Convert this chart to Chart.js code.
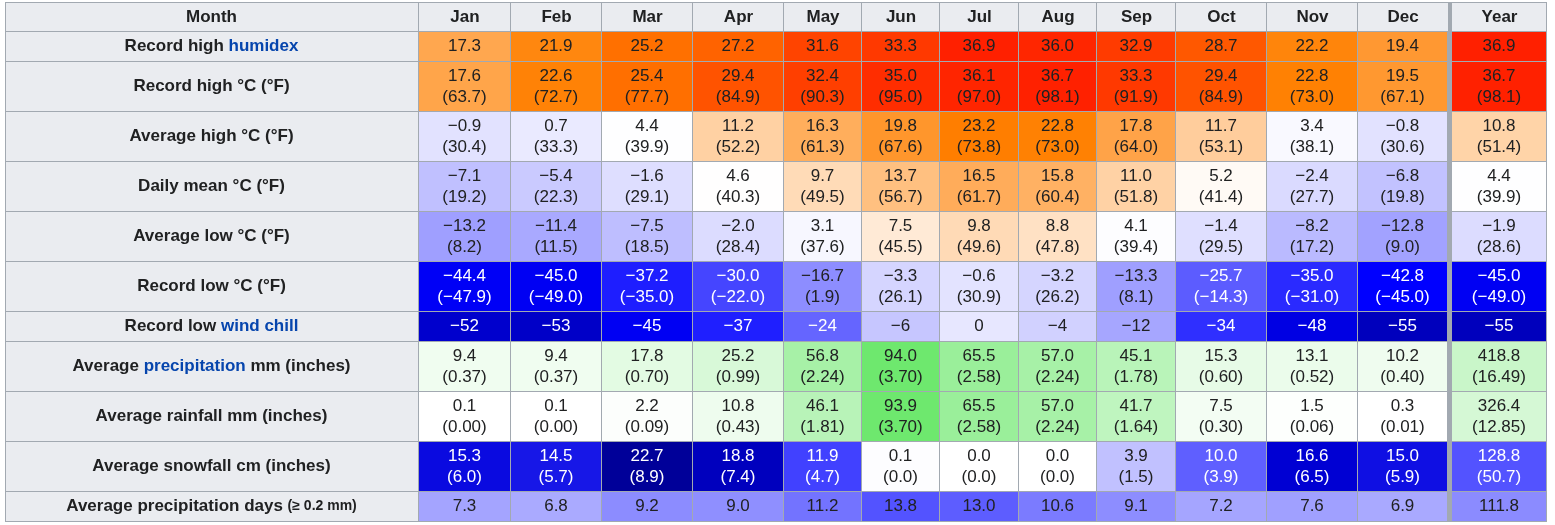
<!DOCTYPE html>
<html>
<head>
<meta charset="utf-8">
<script src="https://cdn.jsdelivr.net/npm/chart.js@4.4.1/dist/chart.umd.min.js"></script>
<style>
  html, body { margin: 0; padding: 0; background: #fff; }
</style>
</head>
<body>
<canvas id="climate" width="1555" height="525"></canvas>
<script>
// climate table values
const months = ['Jan', 'Feb', 'Mar', 'Apr', 'May', 'Jun', 'Jul', 'Aug', 'Sep', 'Oct', 'Nov', 'Dec', 'Year'];

const humidex      = [17.3, 21.9, 25.2, 27.2, 31.6, 33.3, 36.9, 36.0, 32.9, 28.7, 22.2, 19.4, 36.9];
const recordHighC  = [17.6, 22.6, 25.4, 29.4, 32.4, 35.0, 36.1, 36.7, 33.3, 29.4, 22.8, 19.5, 36.7];
const recordHighF  = [63.7, 72.7, 77.7, 84.9, 90.3, 95.0, 97.0, 98.1, 91.9, 84.9, 73.0, 67.1, 98.1];
const avgHighC     = [-0.9, 0.7, 4.4, 11.2, 16.3, 19.8, 23.2, 22.8, 17.8, 11.7, 3.4, -0.8, 10.8];
const avgHighF     = [30.4, 33.3, 39.9, 52.2, 61.3, 67.6, 73.8, 73.0, 64.0, 53.1, 38.1, 30.6, 51.4];
const meanC        = [-7.1, -5.4, -1.6, 4.6, 9.7, 13.7, 16.5, 15.8, 11.0, 5.2, -2.4, -6.8, 4.4];
const meanF        = [19.2, 22.3, 29.1, 40.3, 49.5, 56.7, 61.7, 60.4, 51.8, 41.4, 27.7, 19.8, 39.9];
const avgLowC      = [-13.2, -11.4, -7.5, -2.0, 3.1, 7.5, 9.8, 8.8, 4.1, -1.4, -8.2, -12.8, -1.9];
const avgLowF      = [8.2, 11.5, 18.5, 28.4, 37.6, 45.5, 49.6, 47.8, 39.4, 29.5, 17.2, 9.0, 28.6];
const recordLowC   = [-44.4, -45.0, -37.2, -30.0, -16.7, -3.3, -0.6, -3.2, -13.3, -25.7, -35.0, -42.8, -45.0];
const recordLowF   = [-47.9, -49.0, -35.0, -22.0, 1.9, 26.1, 30.9, 26.2, 8.1, -14.3, -31.0, -45.0, -49.0];
const windChill    = [-52, -53, -45, -37, -24, -6, 0, -4, -12, -34, -48, -55, -55];
const precipMm     = [9.4, 9.4, 17.8, 25.2, 56.8, 94.0, 65.5, 57.0, 45.1, 15.3, 13.1, 10.2, 418.8];
const precipIn     = [0.37, 0.37, 0.70, 0.99, 2.24, 3.70, 2.58, 2.24, 1.78, 0.60, 0.52, 0.40, 16.49];
const rainMm       = [0.1, 0.1, 2.2, 10.8, 46.1, 93.9, 65.5, 57.0, 41.7, 7.5, 1.5, 0.3, 326.4];
const rainIn       = [0.00, 0.00, 0.09, 0.43, 1.81, 3.70, 2.58, 2.24, 1.64, 0.30, 0.06, 0.01, 12.85];
const snowCm       = [15.3, 14.5, 22.7, 18.8, 11.9, 0.1, 0.0, 0.0, 3.9, 10.0, 16.6, 15.0, 128.8];
const snowIn       = [6.0, 5.7, 8.9, 7.4, 4.7, 0.0, 0.0, 0.0, 1.5, 3.9, 6.5, 5.9, 50.7];
const precipDays   = [7.3, 6.8, 9.2, 9.0, 11.2, 13.8, 13.0, 10.6, 9.1, 7.2, 7.6, 6.9, 111.8];

// [text] = link, {text} = small print
const rows = [
  { label: 'Record high [humidex]', main: humidex, dp: 1, kind: 'temp' },
  { label: 'Record high °C (°F)', main: recordHighC, sub: recordHighF, dp: 1, subDp: 1, kind: 'temp' },
  { label: 'Average high °C (°F)', main: avgHighC, sub: avgHighF, dp: 1, subDp: 1, kind: 'temp' },
  { label: 'Daily mean °C (°F)', main: meanC, sub: meanF, dp: 1, subDp: 1, kind: 'temp' },
  { label: 'Average low °C (°F)', main: avgLowC, sub: avgLowF, dp: 1, subDp: 1, kind: 'temp' },
  { label: 'Record low °C (°F)', main: recordLowC, sub: recordLowF, dp: 1, subDp: 1, kind: 'temp' },
  { label: 'Record low [wind chill]', main: windChill, dp: 0, kind: 'temp' },
  { label: 'Average [precipitation] mm (inches)', main: precipMm, sub: precipIn, dp: 1, subDp: 2, kind: 'precip' },
  { label: 'Average rainfall mm (inches)', main: rainMm, sub: rainIn, dp: 1, subDp: 2, kind: 'precip' },
  { label: 'Average snowfall cm (inches)', main: snowCm, sub: snowIn, dp: 1, subDp: 1, kind: 'snow' },
  { label: 'Average precipitation days {(≥ 0.2 mm)}', main: precipDays, dp: 1, kind: 'days' }
];

// table geometry in scale units
const colWidths = [92, 91, 91, 91, 78, 78, 79, 78, 79, 91, 91, 90, 95];
const yearGap = 4;
const colLeft = [], colRight = [];
let cx = 0;
colWidths.forEach((w, i) => {
  if (i === 12) cx += yearGap;
  colLeft.push(cx); cx += w; colRight.push(cx);
});
const tableWidth = cx;

const rowTop = [], rowBottom = [];
let cy = 0;
rows.forEach(r => { rowTop.push(cy); cy += r.sub ? 50 : 30; rowBottom.push(cy); });
const tableHeight = cy;

const FONT = "'Liberation Sans', Arial, sans-serif";
const TEXT = '#202122';
const LINK = '#0645ad';
const GRID = '#a2a9b1';
const HEAD = '#eaecf0';

function rangePos(v, start, stop) {
  const t = (v - start) / (stop - start) * 255;
  return Math.round(Math.max(0, Math.min(255, t)));
}
const clamp = v => Math.round(Math.max(0, Math.min(255, v)));

function cellColor(kind, v, isYear) {
  let r, g, b, white = false;
  if (kind === 'temp') {
    r = v < 4.5 ? rangePos(v, -42.75, 4.5) : rangePos(v, 60, 41.5);
    g = v <= 4.5 ? rangePos(v, -42.75, 4.5) : rangePos(v, 41.5, 4.5);
    b = v < -42.78 ? rangePos(v, -90, -42.78) : rangePos(v, 23, 4.5);
    white = v < -23;
  } else {
    const m = isYear ? v / 12 : v;
    if (kind === 'precip') {
      r = b = rangePos(m, 165, 0);
      g = clamp(255 - m * 0.25);
    } else if (kind === 'snow') {
      r = g = clamp(255 - 16 * m);
      b = clamp(255 - Math.max(0, m - 12) * 9.5);
      white = m >= 10;
    } else {
      r = g = clamp(255 - 12.5 * m);
      b = 255;
    }
  }
  return { bg: `rgb(${r},${g},${b})`, fg: white ? '#ffffff' : TEXT };
}

const fmt = (v, dp) => v.toFixed(dp).replace('-', '\u2212');

const datasets = rows.map((r, ri) => ({
  label: r.label.replace(/[\[\]{}]/g, ''),
  data: r.main.map((v, ci) => ({ y: (rowTop[ri] + rowBottom[ri]) / 2, x: [colLeft[ci], colRight[ci]] })),
  backgroundColor: r.main.map((v, ci) => cellColor(r.kind, v, ci === 12).bg),
  borderColor: GRID,
  borderWidth: { top: 0, right: 1, bottom: 1, left: 0 },
  borderSkipped: false,
  inflateAmount: 0,
  stack: 'table',
  barThickness: ctx => {
    const ys = ctx.chart.scales.y;
    return Math.abs(ys.getPixelForValue(rowBottom[ri]) - ys.getPixelForValue(rowTop[ri]));
  }
}));

function drawLabel(ctx, text, centerX, y) {
  const parts = [];
  const re = /\[([^\]]+)\]|\{([^}]+)\}|([^\[{]+)/g;
  let m;
  while ((m = re.exec(text))) {
    if (m[1]) parts.push({ t: m[1], color: LINK, font: `bold 17px ${FONT}` });
    else if (m[2]) parts.push({ t: m[2], color: TEXT, font: `bold 14px ${FONT}` });
    else parts.push({ t: m[3], color: TEXT, font: `bold 17px ${FONT}` });
  }
  let total = 0;
  parts.forEach(p => { ctx.font = p.font; p.w = ctx.measureText(p.t).width; total += p.w; });
  let x = centerX - total / 2;
  ctx.textAlign = 'left';
  ctx.textBaseline = 'middle';
  parts.forEach(p => { ctx.font = p.font; ctx.fillStyle = p.color; ctx.fillText(p.t, x, y); x += p.w; });
}

const tablePlugin = {
  id: 'tableFrame',
  beforeDraw(chart) {
    const { ctx, chartArea: a, scales: { x, y } } = chart;
    const left = y.left, top = x.top;
    ctx.save();
    ctx.fillStyle = '#fff';
    ctx.fillRect(0, 0, chart.width, chart.height);
    ctx.fillStyle = HEAD;
    ctx.fillRect(left, top, a.right - left, a.top - top);
    ctx.fillRect(left, a.top, a.left - left, a.bottom - a.top);
    // thick rule in front of the Year column
    ctx.fillStyle = GRID;
    const g0 = x.getPixelForValue(colRight[11]), g1 = x.getPixelForValue(colLeft[12]);
    ctx.fillRect(g0, top, g1 - g0, a.bottom - top);
    ctx.restore();
  },
  afterDatasetsDraw(chart) {
    const { ctx, chartArea: a, scales: { x, y } } = chart;
    const left = y.left, top = x.top;
    ctx.save();

    // numbers in cells
    rows.forEach((r, ri) => {
      const meta = chart.getDatasetMeta(ri);
      meta.data.forEach((el, ci) => {
        const l = Math.min(el.x, el.base), rt = Math.max(el.x, el.base) - 1;
        const t = el.y - el.height / 2, b = el.y + el.height / 2 - 1;
        const mx = (l + rt) / 2, my = (t + b) / 2;
        const col = cellColor(r.kind, r.main[ci], ci === 12);
        ctx.fillStyle = col.fg;
        ctx.font = `17px ${FONT}`;
        ctx.textAlign = 'center';
        ctx.textBaseline = 'middle';
        if (r.sub) {
          ctx.fillText(fmt(r.main[ci], r.dp), mx, my - 10);
          ctx.fillText('(' + fmt(r.sub[ci], r.subDp) + ')', mx, my + 11);
        } else {
          ctx.fillText(fmt(r.main[ci], r.dp), mx, my);
        }
      });
    });

    // frame lines of header and label column
    ctx.fillStyle = GRID;
    ctx.fillRect(left, top, a.right - left, 1);
    ctx.fillRect(left, a.top - 1, a.right - left, 1);
    ctx.fillRect(left, top, 1, a.bottom - top);
    ctx.fillRect(a.left - 1, top, 1, a.bottom - top);
    colRight.forEach((v, ci) => {
      if (ci === 11) return;
      ctx.fillRect(x.getPixelForValue(v) - 1, top, 1, a.top - top);
    });
    rowBottom.forEach(v => ctx.fillRect(left, y.getPixelForValue(v) - 1, a.left - left, 1));

    // row labels
    const labelCenter = (left + a.left - 1) / 2;
    drawLabel(ctx, 'Month', labelCenter, (top + a.top) / 2 + 0.5);
    rows.forEach((r, ri) => {
      const yc = (y.getPixelForValue(rowTop[ri]) + y.getPixelForValue(rowBottom[ri]) - 1) / 2;
      drawLabel(ctx, r.label, labelCenter, yc);
    });
    ctx.restore();
  }
};

new Chart(document.getElementById('climate'), {
  type: 'bar',
  data: { labels: months, datasets: datasets },
  options: {
    indexAxis: 'y',
    responsive: false,
    animation: false,
    events: [],
    layout: { padding: { left: 5, top: 2, right: 8, bottom: 3 } },
    plugins: { legend: { display: false }, tooltip: { enabled: false } },
    scales: {
      x: {
        type: 'linear',
        position: 'top',
        min: 0,
        max: tableWidth,
        grid: { display: false, drawTicks: false },
        border: { display: false },
        afterBuildTicks: s => { s.ticks = colLeft.map((v, i) => ({ value: (v + colRight[i]) / 2 })); },
        afterFit: s => { s.height = 30; },
        ticks: {
          autoSkip: false,
          maxRotation: 0,
          padding: 4,
          color: TEXT,
          font: { family: FONT, size: 17, weight: 'bold' },
          callback: (v, i) => months[i]
        }
      },
      y: {
        type: 'linear',
        reverse: true,
        offset: false,
        min: 0,
        max: tableHeight,
        grid: { display: false },
        border: { display: false },
        ticks: { display: false },
        afterFit: s => { s.width = 414; }
      }
    }
  },
  plugins: [tablePlugin]
});
</script>
</body>
</html>
